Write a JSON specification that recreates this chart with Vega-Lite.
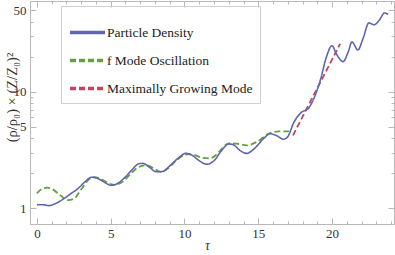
{
  "$schema": "https://vega.github.io/schema/vega-lite/v6.json",
  "width": 364,
  "height": 223,
  "autosize": {"type": "none"},
  "padding": {"left": 30, "top": 1, "right": 1, "bottom": 31},
  "background": "white",
  "config": {
    "font": "Liberation Serif",
    "view": {"stroke": "#b8b8b8", "strokeWidth": 1},
    "axis": {"domainColor": "#b8b8b8", "tickColor": "#b8b8b8", "labelColor": "#333333", "labelFont": "Liberation Serif", "labelFontSize": 13, "titleFont": "Liberation Serif", "titleColor": "#333333", "titleFontWeight": "normal", "grid": false},
    "legend": {"labelFont": "Liberation Serif", "labelFontSize": 13.5, "labelColor": "#222222"}
  },
  "datasets": {
    "all": [
      {"series": "Particle Density", "t": 0, "v": 1.07},
      {"series": "Particle Density", "t": 0.5, "v": 1.065},
      {"series": "Particle Density", "t": 0.8, "v": 1.05},
      {"series": "Particle Density", "t": 1.3, "v": 1.1},
      {"series": "Particle Density", "t": 1.8, "v": 1.2},
      {"series": "Particle Density", "t": 2.3, "v": 1.33},
      {"series": "Particle Density", "t": 2.8, "v": 1.48},
      {"series": "Particle Density", "t": 3.3, "v": 1.7},
      {"series": "Particle Density", "t": 3.7, "v": 1.84},
      {"series": "Particle Density", "t": 4.1, "v": 1.8},
      {"series": "Particle Density", "t": 4.6, "v": 1.66},
      {"series": "Particle Density", "t": 5.0, "v": 1.57},
      {"series": "Particle Density", "t": 5.4, "v": 1.61},
      {"series": "Particle Density", "t": 5.9, "v": 1.8},
      {"series": "Particle Density", "t": 6.4, "v": 2.1},
      {"series": "Particle Density", "t": 6.9, "v": 2.4},
      {"series": "Particle Density", "t": 7.2, "v": 2.42},
      {"series": "Particle Density", "t": 7.6, "v": 2.25},
      {"series": "Particle Density", "t": 8.1, "v": 2.05},
      {"series": "Particle Density", "t": 8.5, "v": 2.06},
      {"series": "Particle Density", "t": 9.0, "v": 2.3},
      {"series": "Particle Density", "t": 9.6, "v": 2.7},
      {"series": "Particle Density", "t": 10.1, "v": 2.95},
      {"series": "Particle Density", "t": 10.5, "v": 2.85},
      {"series": "Particle Density", "t": 11.0, "v": 2.55},
      {"series": "Particle Density", "t": 11.5, "v": 2.38},
      {"series": "Particle Density", "t": 12.0, "v": 2.55},
      {"series": "Particle Density", "t": 12.5, "v": 3.1},
      {"series": "Particle Density", "t": 13.0, "v": 3.55},
      {"series": "Particle Density", "t": 13.3, "v": 3.5},
      {"series": "Particle Density", "t": 13.8, "v": 3.1},
      {"series": "Particle Density", "t": 14.2, "v": 2.95},
      {"series": "Particle Density", "t": 14.8, "v": 3.3},
      {"series": "Particle Density", "t": 15.4, "v": 4.0},
      {"series": "Particle Density", "t": 15.8, "v": 4.35},
      {"series": "Particle Density", "t": 16.3, "v": 4.15},
      {"series": "Particle Density", "t": 16.7, "v": 3.9},
      {"series": "Particle Density", "t": 17.0, "v": 4.1},
      {"series": "Particle Density", "t": 17.4, "v": 5.4},
      {"series": "Particle Density", "t": 17.9, "v": 6.6},
      {"series": "Particle Density", "t": 18.4, "v": 7.2},
      {"series": "Particle Density", "t": 18.9, "v": 9.6},
      {"series": "Particle Density", "t": 19.25, "v": 13.1},
      {"series": "Particle Density", "t": 19.6, "v": 19.5},
      {"series": "Particle Density", "t": 20.0, "v": 24.8},
      {"series": "Particle Density", "t": 20.3, "v": 21},
      {"series": "Particle Density", "t": 20.75, "v": 18.1},
      {"series": "Particle Density", "t": 21.1, "v": 22},
      {"series": "Particle Density", "t": 21.35, "v": 26.7},
      {"series": "Particle Density", "t": 21.75, "v": 22.8},
      {"series": "Particle Density", "t": 22.1, "v": 28.5},
      {"series": "Particle Density", "t": 22.5, "v": 38.9},
      {"series": "Particle Density", "t": 22.85, "v": 37.5},
      {"series": "Particle Density", "t": 23.2, "v": 41},
      {"series": "Particle Density", "t": 23.55, "v": 47.3},
      {"series": "Particle Density", "t": 23.8, "v": 46},
      {"series": "f Mode Oscillation", "t": 0, "v": 1.34},
      {"series": "f Mode Oscillation", "t": 0.3, "v": 1.45},
      {"series": "f Mode Oscillation", "t": 0.7, "v": 1.5},
      {"series": "f Mode Oscillation", "t": 1.1, "v": 1.44},
      {"series": "f Mode Oscillation", "t": 1.6, "v": 1.28},
      {"series": "f Mode Oscillation", "t": 2.1, "v": 1.17},
      {"series": "f Mode Oscillation", "t": 2.5, "v": 1.2},
      {"series": "f Mode Oscillation", "t": 3.0, "v": 1.45},
      {"series": "f Mode Oscillation", "t": 3.5, "v": 1.75},
      {"series": "f Mode Oscillation", "t": 3.9, "v": 1.84},
      {"series": "f Mode Oscillation", "t": 4.4, "v": 1.76},
      {"series": "f Mode Oscillation", "t": 4.9, "v": 1.62},
      {"series": "f Mode Oscillation", "t": 5.3, "v": 1.58},
      {"series": "f Mode Oscillation", "t": 5.8, "v": 1.68},
      {"series": "f Mode Oscillation", "t": 6.4, "v": 2.0},
      {"series": "f Mode Oscillation", "t": 6.9, "v": 2.25},
      {"series": "f Mode Oscillation", "t": 7.4, "v": 2.33},
      {"series": "f Mode Oscillation", "t": 7.9, "v": 2.2},
      {"series": "f Mode Oscillation", "t": 8.4, "v": 2.05},
      {"series": "f Mode Oscillation", "t": 8.9, "v": 2.2},
      {"series": "f Mode Oscillation", "t": 9.5, "v": 2.6},
      {"series": "f Mode Oscillation", "t": 10.2, "v": 2.9},
      {"series": "f Mode Oscillation", "t": 10.7, "v": 2.85},
      {"series": "f Mode Oscillation", "t": 11.2, "v": 2.7},
      {"series": "f Mode Oscillation", "t": 11.7, "v": 2.67},
      {"series": "f Mode Oscillation", "t": 12.2, "v": 2.9},
      {"series": "f Mode Oscillation", "t": 12.6, "v": 3.3},
      {"series": "f Mode Oscillation", "t": 13.0, "v": 3.6},
      {"series": "f Mode Oscillation", "t": 13.7, "v": 3.55},
      {"series": "f Mode Oscillation", "t": 14.2, "v": 3.45},
      {"series": "f Mode Oscillation", "t": 14.9, "v": 3.7},
      {"series": "f Mode Oscillation", "t": 15.7, "v": 4.35},
      {"series": "f Mode Oscillation", "t": 16.4, "v": 4.55},
      {"series": "f Mode Oscillation", "t": 17.1, "v": 4.55},
      {"series": "Maximally Growing Mode", "t": 17.35, "v": 4.21},
      {"series": "Maximally Growing Mode", "t": 20.55, "v": 25.7}
    ]
  },
  "data": {"name": "all"},
  "encoding": {
    "x": {"field": "t", "type": "quantitative",
      "scale": {"domain": [-0.47, 24.2], "nice": false, "zero": false}},
    "y": {"field": "v", "type": "quantitative",
      "scale": {"type": "log", "domain": [0.73, 60], "nice": false}},
    "color": {"field": "series", "type": "nominal",
      "scale": {"domain": ["Particle Density", "f Mode Oscillation", "Maximally Growing Mode"], "range": ["#6066ae", "#63a040", "#c04460"]},
      "legend": {"title": null, "orient": "none", "legendX": 31, "legendY": 5, "padding": 7, "strokeColor": "#d0d0d0", "symbolType": "stroke", "symbolSize": 1225, "symbolStrokeWidth": 3.5, "labelFont": "Liberation Serif", "labelFontSize": 13.5, "labelColor": "#222222", "labelOffset": 0, "rowPadding": 1, "symbolLimit": 0}},
    "strokeDash": {"field": "series", "type": "nominal",
      "scale": {"domain": ["Particle Density", "f Mode Oscillation", "Maximally Growing Mode"], "range": [[1, 0], [6, 3], [6, 3]]},
      "legend": {"title": null}}
  },
  "layer": [
    {
      "transform": [{"filter": "datum.series !== 'Particle Density'"}],
      "mark": {"type": "line", "strokeWidth": 1.8, "interpolate": "monotone"},
      "encoding": {
        "x": {"field": "t", "type": "quantitative", "title": "τ",
          "axis": {"values": [0,1,2,3,4,5,6,7,8,9,10,11,12,13,14,15,16,17,18,19,20,21,22,23,24], "labelExpr": "datum.value % 5 === 0 ? datum.label : ''", "tickSize": {"condition": {"test": "datum.value % 5 === 0", "value": -6}, "value": -3}, "labelPadding": 9, "titleFontSize": 14, "titleFontStyle": "italic", "titleX": 177, "titleY": 14, "titleBaseline": "top"}},
        "y": {"field": "v", "type": "quantitative", "title": "(ρ/ρ₀) × (Z/Z₀)²",
          "axis": {"values": [1,2,3,4,5,6,7,8,9,10,20,30,40,50], "labelExpr": "indexof([1,5,10,50], datum.value) >= 0 ? datum.label : ''", "tickSize": {"condition": {"test": "indexof([1,5,10,50], datum.value) >= 0", "value": -6}, "value": -3}, "labelPadding": 10, "titleFontSize": 14.5, "titleX": -18, "titleY": 96, "titleBaseline": "middle", "titleAngle": 270, "titleAlign": "center"}}
      }
    },
    {
      "transform": [{"filter": "datum.series === 'Particle Density'"}],
      "mark": {"type": "line", "strokeWidth": 1.6, "interpolate": "monotone"},
      "encoding": {
        "x": {"field": "t", "type": "quantitative",
          "axis": {"orient": "top", "title": null, "labels": false, "values": [0,1,2,3,4,5,6,7,8,9,10,11,12,13,14,15,16,17,18,19,20,21,22,23,24], "tickSize": {"condition": {"test": "datum.value % 5 === 0", "value": -6}, "value": -3}}},
        "y": {"field": "v", "type": "quantitative",
          "axis": {"orient": "right", "title": null, "labels": false, "values": [1,2,3,4,5,6,7,8,9,10,20,30,40,50], "tickSize": {"condition": {"test": "indexof([1,5,10,50], datum.value) >= 0", "value": -6}, "value": -3}}}
      }
    }
  ],
  "resolve": {"axis": {"x": "independent", "y": "independent"}}
}
